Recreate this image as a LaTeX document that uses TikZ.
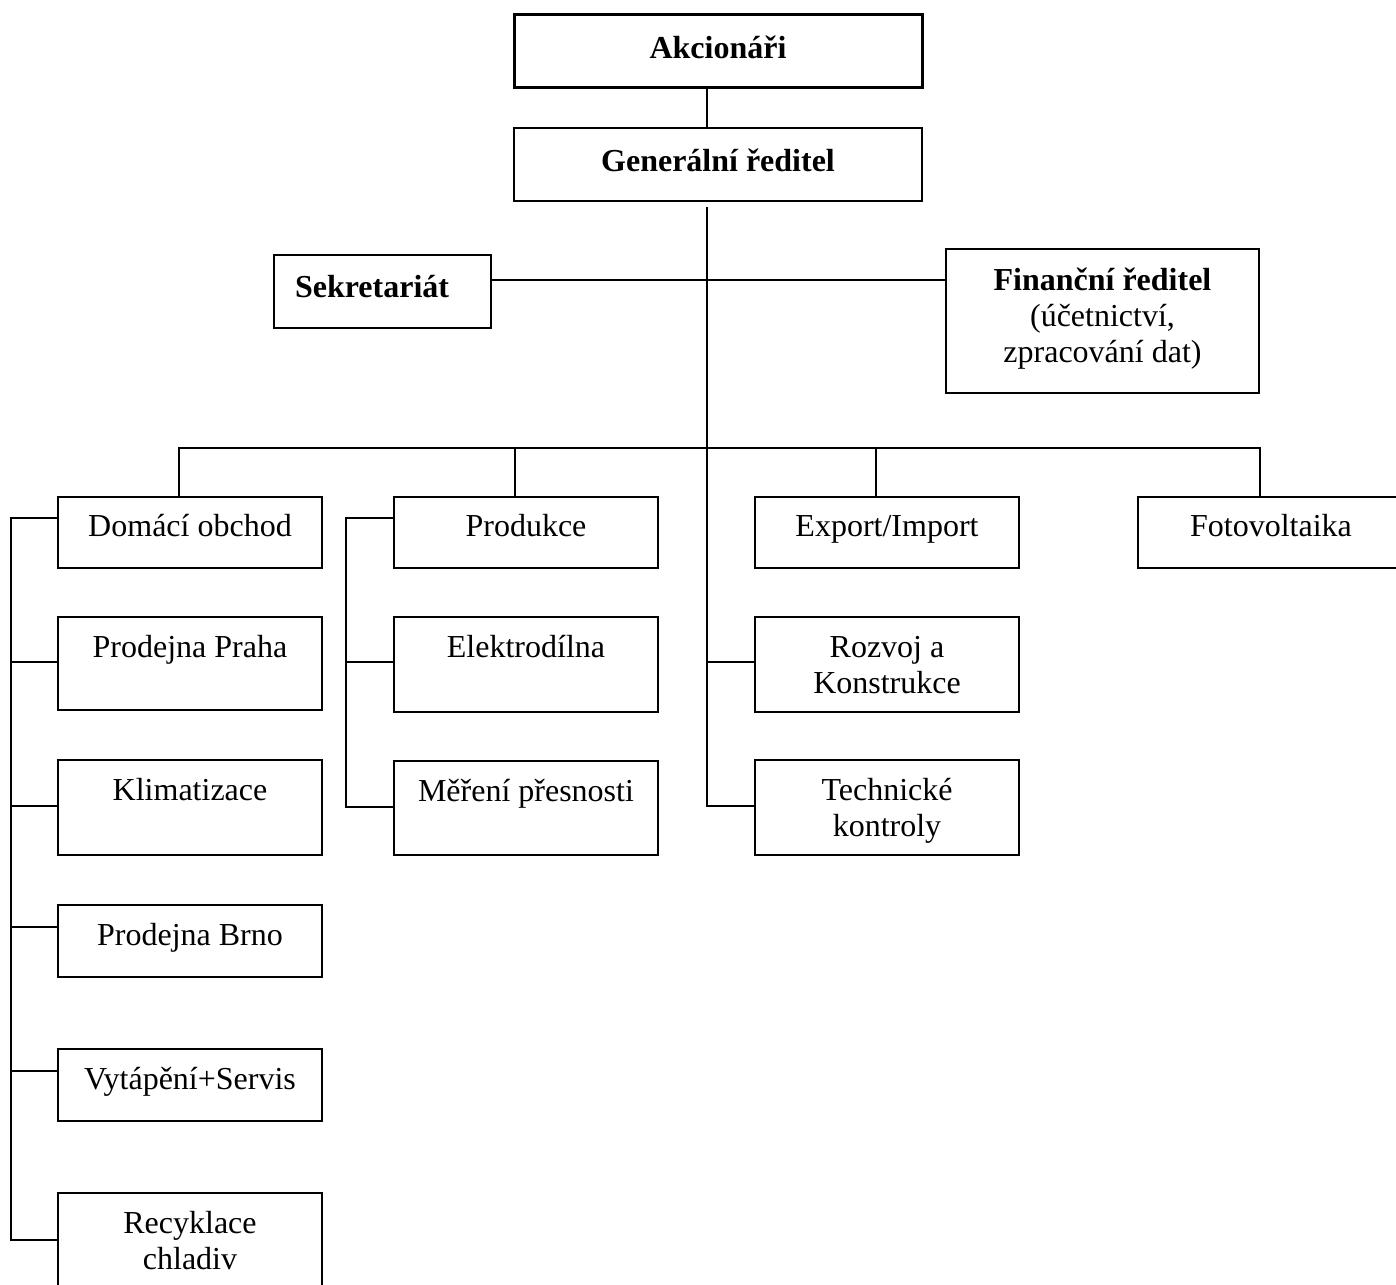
\documentclass[tikz,border=0pt]{standalone}
\usepackage{fontspec}
\setmainfont{Liberation Serif}
\usetikzlibrary{positioning}

\tikzset{
  box/.style={draw, line width=1pt, inner sep=0pt, outer sep=0pt, align=flush center,
    text width=132pt, text height=20pt, font=\fontsize{16pt}{18pt}\selectfont},
  head/.style={box, font=\fontsize{16pt}{18pt}\selectfont\bfseries},
}

\begin{document}
\begin{tikzpicture}[x=0.5pt, y=-0.5pt, node distance=24.5pt, line width=1pt]
  \useasboundingbox (0,0) rectangle (1396,1284);
  % Top: owners and management
  \node[head, line width=1.5pt, text width=204pt, text height=22pt, text depth=14.5pt, anchor=north west] (akc) at (514,15) {Akcionáři};
  \node[head, text width=204pt, text height=21.5pt, text depth=15pt, anchor=north west] (gr) at (514,128) {Generální ředitel};
  \node[head, text width=87.5pt, inner xsep=10.5pt, align=flush left, text height=21pt, text depth=15.5pt, anchor=north west] (sek) at (274,255) {Sekretariát};
  \node[box, text width=156.5pt, text height=20.5pt, text depth=51.5pt, anchor=north west] (fin) at (946,249) {\textbf{Finanční ředitel}\\(účetnictví,\\zpracování dat)};
  % Departments
  \node[box, text height=19.5pt, text depth=16pt, anchor=north west] (dom) at (58,497) {Domácí obchod};
  \node[box, text height=19.5pt, text depth=16pt, anchor=north west] (prod) at (394,497) {Produkce};
  \node[box, text height=19.5pt, text depth=16pt, anchor=north west] (exp) at (755,497) {Export/Import};
  \node[box, text width=133pt, text height=19.5pt, text depth=16pt, anchor=north west] (foto) at (1138,497) {Fotovoltaika};
  % Domestic trade
  \node[box, text depth=26.5pt, below=of dom] (praha) {Prodejna Praha};
  \node[box, text depth=27.5pt, below=25pt of praha] (klim) {Klimatizace};
  \node[box, text depth=16pt, below=25pt of klim] (brno) {Prodejna Brno};
  \node[box, text depth=16pt, below=36pt of brno] (vyt) {Vytápění+Servis};
  \node[box, text depth=28pt, below=36pt of vyt] (recy) {Recyklace\\chladiv};
  % Production
  \node[box, text depth=27.5pt, below=of prod] (elek) {Elektrodílna};
  \node[box, text depth=27pt, below=of elek] (mer) {Měření přesnosti};
  % Development
  \node[box, text depth=27.5pt, below=of exp] (rozv) {Rozvoj a\\Konstrukce};
  \node[box, text depth=27.5pt, below=24pt of rozv] (tech) {Technické\\kontroly};

  \coordinate (spine) at (707,0);
  \coordinate (staff) at (707,280);
  \coordinate (bus) at (707,448);
  \coordinate (lb) at (11,700);
  \coordinate (mb) at (346,700);

  % Connections
  \draw (akc.south -| spine) -- (gr.north -| spine);
  \draw (gr.south -| spine) ++(0,6) |- ([yshift=-23pt]tech.north west);
  \draw ([yshift=-22.5pt]rozv.north west) -- ++(-48,0);
  \draw (sek.east |- staff) -- (fin.west |- staff);
  \foreach \n in {dom, prod, exp, foto}
    \draw (\n.north) ++(-11,0) |- (bus);
  \draw ([yshift=-10.5pt]dom.north west) -| (lb) |- ([yshift=-23.5pt]recy.north west);
  \foreach \n/\o in {praha/-22.5pt, klim/-23pt, brno/-11pt, vyt/-11pt}
    \draw ([yshift=\o]\n.north west) -- ++(-47,0);
  \draw ([yshift=-10.5pt]prod.north west) -| (mb) |- ([yshift=-23pt]mer.north west);
  \draw ([yshift=-22.5pt]elek.north west) -- ++(-48,0);
\end{tikzpicture}
\end{document}
